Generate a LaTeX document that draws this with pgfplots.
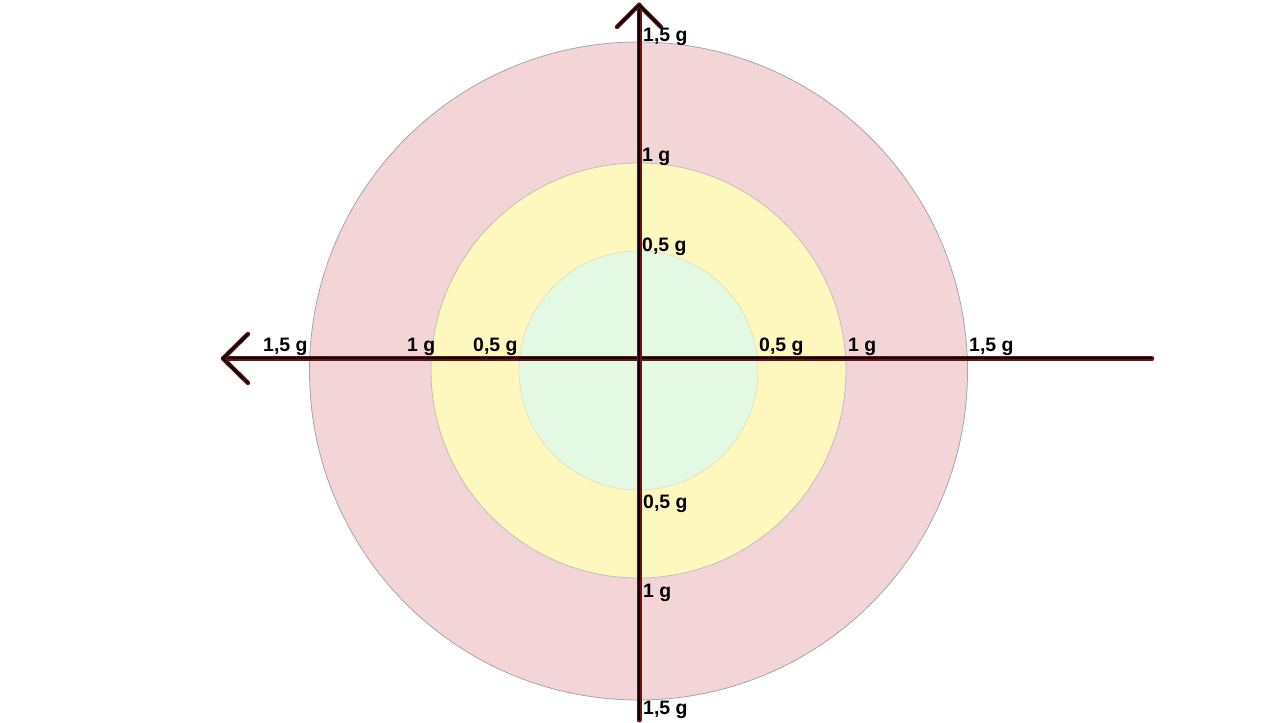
\documentclass[border=0pt]{standalone}
\usepackage{pgfplots}
\pgfplotsset{compat=1.18}
\usepackage{fontspec}
\setmainfont{Liberation Sans}
\definecolor{outerc}{HTML}{F4D5D7}
\definecolor{midc}{HTML}{FEF8BF}
\definecolor{innerc}{HTML}{E4F9E4}
\definecolor{axred}{HTML}{6A1212}
\begin{document}
\begin{tikzpicture}[x=1bp,y=1bp, lbl/.style={font=\fontsize{19.5}{21}\selectfont\bfseries, inner sep=0pt, anchor=base west}]
\begin{axis}[
  scale only axis, width=1280bp, height=720bp,
  xmin=0, xmax=1280, ymin=-720, ymax=0,
  hide axis, clip=false,
]
\path (axis cs:0,0) rectangle (axis cs:1280,-720);
\draw[fill=outerc, draw=gray!70, line width=0.8bp] (axis cs:638.5,-371) circle[radius=329];
\draw[fill=midc, draw=gray!50, line width=0.8bp] (axis cs:638.5,-370.5) circle[radius=207.5];
\draw[fill=innerc, draw=yellow!40!gray!40, line width=0.8bp] (axis cs:638.5,-370.5) circle[radius=119.5];
% axis lines
\addplot[axred, line width=4.5bp, line cap=round, line join=round] coordinates {(223,-358.5) (1152,-358.5)};
\addplot[black, line width=2bp] coordinates {(223,-358.5) (1152,-358.5)};
\addplot[axred, line width=5bp, line cap=round, line join=round] coordinates {(639,-5) (639,-720)};
\addplot[black, line width=2.5bp] coordinates {(639,-5) (639,-720)};
% arrowheads
\addplot[axred, line width=4.5bp, line cap=round, line join=round] coordinates {(617,-27) (639,-5) (661,-27)};
\addplot[black, line width=2bp, line cap=round, line join=round] coordinates {(617,-27) (639,-5) (661,-27)};
\addplot[axred, line width=4.5bp, line cap=round, line join=round] coordinates {(248,-334) (223,-358.5) (248,-383)};
\addplot[black, line width=2bp, line cap=round, line join=round] coordinates {(248,-334) (223,-358.5) (248,-383)};
% labels vertical
\node[lbl] at (axis cs:643,-42) {1,5 g};
\node[lbl] at (axis cs:642,-162) {1 g};
\node[lbl] at (axis cs:642,-252) {0,5 g};
\node[lbl] at (axis cs:643,-509) {0,5 g};
\node[lbl] at (axis cs:643,-598) {1 g};
\node[lbl] at (axis cs:643,-715) {1,5 g};
% labels horizontal
\node[lbl] at (axis cs:263,-352) {1,5 g};
\node[lbl] at (axis cs:407,-352) {1 g};
\node[lbl] at (axis cs:473,-352) {0,5 g};
\node[lbl] at (axis cs:759,-352) {0,5 g};
\node[lbl] at (axis cs:848,-352) {1 g};
\node[lbl] at (axis cs:969,-352) {1,5 g};
\end{axis}
\end{tikzpicture}
\end{document}
